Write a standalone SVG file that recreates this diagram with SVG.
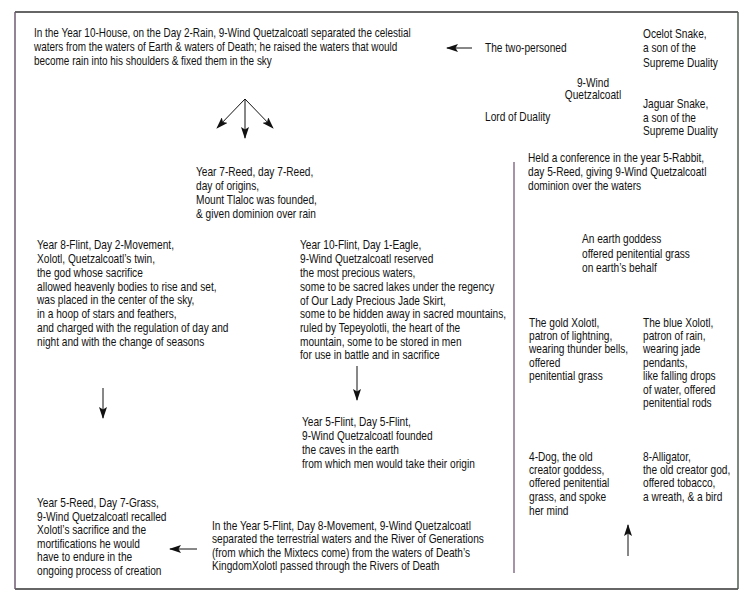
<svg xmlns="http://www.w3.org/2000/svg" width="750" height="601" viewBox="0 0 750 601">
<style>
text{font-family:"Liberation Sans",Arial,sans-serif;font-size:12px;fill:#111}
.c{stroke:#111;stroke-width:1;fill:none;marker-end:url(#ah)}
.m{text-anchor:middle}
</style>
<defs>
<marker id="ah" viewBox="0 0 12 8" refX="11" refY="4" markerWidth="12" markerHeight="8" markerUnits="userSpaceOnUse" orient="auto">
<path d="M0,0 L12,4 L0,8 L2.5,4 Z" fill="#111"/>
</marker>
</defs>
<rect width="750" height="601" fill="#fff"/>
<g id="frame" fill="none">
<line x1="15" y1="12" x2="738" y2="12" stroke="#333" stroke-width="1.6"/>
<line x1="15" y1="589" x2="738" y2="589" stroke="#333" stroke-width="1.6"/>
<line x1="15" y1="12" x2="15" y2="589" stroke="#6e5a72" stroke-width="1.5"/>
<line x1="738" y1="12" x2="738" y2="589" stroke="#4f5f50" stroke-width="1.5"/>
<line x1="514" y1="162" x2="514" y2="573" stroke="#8a6f8c" stroke-width="1.5"/>
</g>
<g id="connectors">
<line class="c" x1="472" y1="48" x2="447" y2="48"/>
<line class="c" x1="245" y1="99" x2="217" y2="128"/>
<line class="c" x1="245" y1="99" x2="245" y2="138"/>
<line class="c" x1="245" y1="99" x2="273" y2="128"/>
<line class="c" x1="103" y1="388" x2="103" y2="418"/>
<line class="c" x1="357" y1="366" x2="357" y2="400"/>
<line class="c" x1="197" y1="549" x2="170" y2="549"/>
<line class="c" x1="628" y1="556" x2="628" y2="525"/>
</g>
<g id="n1" transform="translate(34 0) scale(0.83 1)"><text x="0" y="37">In the Year 10-House, on the Day 2-Rain, 9-Wind Quetzalcoatl separated the celestial</text><text x="0" y="51">waters from the waters of Earth &amp; waters of Death; he raised the waters that would</text><text x="0" y="65">become rain into his shoulders &amp; fixed them in the sky</text></g>
<g id="n2" transform="translate(485 0) scale(0.845 1)"><text x="0" y="52">The two-personed</text></g>
<g id="n3" transform="translate(643 0) scale(0.845 1)"><text x="0" y="38">Ocelot Snake,</text><text x="0" y="52">a son of the</text><text x="0" y="67">Supreme Duality</text></g>
<g id="n4" transform="translate(593 0) scale(0.845 1)"><text class="m" x="0" y="87">9-Wind</text><text class="m" x="0" y="99">Quetzalcoatl</text></g>
<g id="n5" transform="translate(485 0) scale(0.845 1)"><text x="0" y="121">Lord of Duality</text></g>
<g id="n6" transform="translate(643 0) scale(0.845 1)"><text x="0" y="108">Jaguar Snake,</text><text x="0" y="122">a son of the</text><text x="0" y="135">Supreme Duality</text></g>
<g id="n7" transform="translate(196 0) scale(0.845 1)"><text x="0" y="176">Year 7-Reed, day 7-Reed,</text><text x="0" y="190">day of origins,</text><text x="0" y="204">Mount Tlaloc was founded,</text><text x="0" y="218">&amp; given dominion over rain</text></g>
<g id="n8" transform="translate(37 0) scale(0.845 1)"><text x="0" y="249">Year 8-Flint, Day 2-Movement,</text><text x="0" y="263">Xolotl, Quetzalcoatl’s twin,</text><text x="0" y="277">the god whose sacrifice</text><text x="0" y="291">allowed heavenly bodies to rise and set,</text><text x="0" y="304">was placed in the center of the sky,</text><text x="0" y="318">in a hoop of stars and feathers,</text><text x="0" y="332">and charged with the regulation of day and</text><text x="0" y="346">night and with the change of seasons</text></g>
<g id="n9" transform="translate(300 0) scale(0.845 1)"><text x="0" y="249">Year 10-Flint, Day 1-Eagle,</text><text x="0" y="263">9-Wind Quetzalcoatl reserved</text><text x="0" y="277">the most precious waters,</text><text x="0" y="291">some to be sacred lakes under the regency</text><text x="0" y="305">of Our Lady Precious Jade Skirt,</text><text x="0" y="318">some to be hidden away in sacred mountains,</text><text x="0" y="332">ruled by Tepeyolotli, the heart of the</text><text x="0" y="346">mountain, some to be stored in men</text><text x="0" y="359">for use in battle and in sacrifice</text></g>
<g id="n10" transform="translate(302 0) scale(0.845 1)"><text x="0" y="426">Year 5-Flint, Day 5-Flint,</text><text x="0" y="440">9-Wind Quetzalcoatl founded</text><text x="0" y="454">the caves in the earth</text><text x="0" y="468">from which men would take their origin</text></g>
<g id="n11" transform="translate(37 0) scale(0.845 1)"><text x="0" y="507">Year 5-Reed, Day 7-Grass,</text><text x="0" y="521">9-Wind Quetzalcoatl recalled</text><text x="0" y="534">Xolotl’s sacrifice and the</text><text x="0" y="548">mortifications he would</text><text x="0" y="561">have to endure in the</text><text x="0" y="575">ongoing process of creation</text></g>
<g id="n12" transform="translate(212 0) scale(0.845 1)"><text x="0" y="530">In the Year 5-Flint, Day 8-Movement, 9-Wind Quetzalcoatl</text><text x="0" y="543">separated the terrestrial waters and the River of Generations</text><text x="0" y="557">(from which the Mixtecs come) from the waters of Death’s</text><text x="0" y="570">KingdomXolotl passed through the Rivers of Death</text></g>
<g id="n13" transform="translate(528 0) scale(0.845 1)"><text x="0" y="162">Held a conference in the year 5-Rabbit,</text><text x="0" y="176">day 5-Reed, giving 9-Wind Quetzalcoatl</text><text x="0" y="190">dominion over the waters</text></g>
<g id="n14" transform="translate(582 0) scale(0.845 1)"><text x="0" y="243">An earth goddess</text><text x="0" y="258">offered penitential grass</text><text x="0" y="272">on earth’s behalf</text></g>
<g id="n15" transform="translate(529 0) scale(0.845 1)"><text x="0" y="327">The gold Xolotl,</text><text x="0" y="340">patron of lightning,</text><text x="0" y="353">wearing thunder bells,</text><text x="0" y="367">offered</text><text x="0" y="380">penitential grass</text></g>
<g id="n16" transform="translate(643 0) scale(0.845 1)"><text x="0" y="327">The blue Xolotl,</text><text x="0" y="340">patron of rain,</text><text x="0" y="353">wearing jade</text><text x="0" y="367">pendants,</text><text x="0" y="380">like falling drops</text><text x="0" y="394">of water, offered</text><text x="0" y="407">penitential rods</text></g>
<g id="n17" transform="translate(529 0) scale(0.845 1)"><text x="0" y="461">4-Dog, the old</text><text x="0" y="474">creator goddess,</text><text x="0" y="487">offered penitential</text><text x="0" y="501">grass, and spoke</text><text x="0" y="515">her mind</text></g>
<g id="n18" transform="translate(643 0) scale(0.845 1)"><text x="0" y="461">8-Alligator,</text><text x="0" y="474">the old creator god,</text><text x="0" y="487">offered tobacco,</text><text x="0" y="501">a wreath, &amp; a bird</text></g>
</svg>
